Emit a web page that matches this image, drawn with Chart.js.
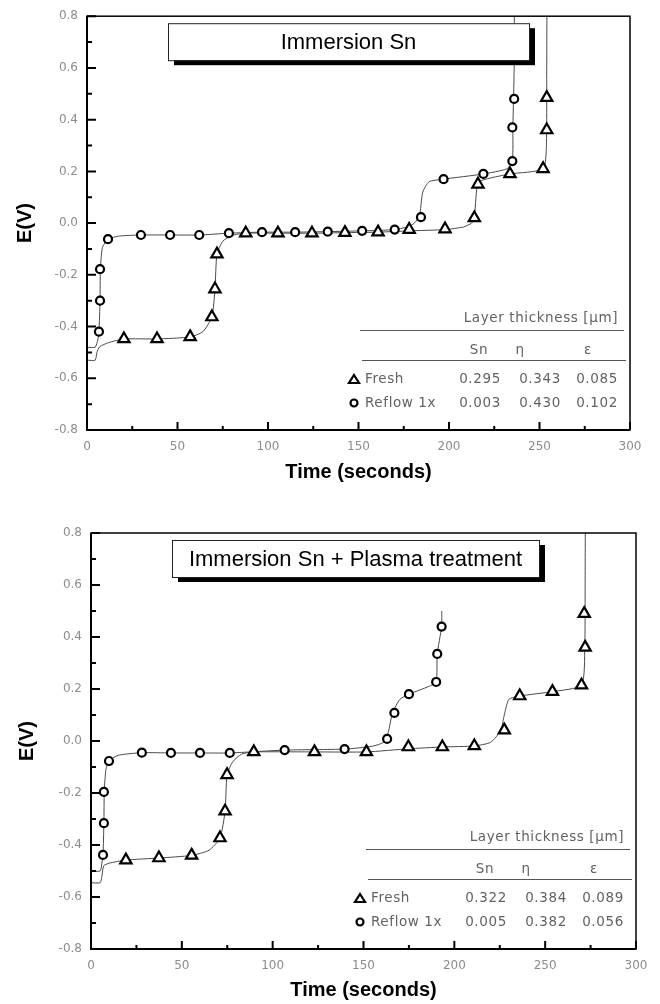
<!DOCTYPE html>
<html>
<head>
<meta charset="utf-8">
<script src="https://cdn.jsdelivr.net/npm/chart.js@4/dist/chart.umd.min.js"></script>
<style>
  body { margin: 0; background: #fff; }
  #wrap { position: relative; width: 660px; height: 1004px; }
  canvas { position: absolute; left: 0; }
</style>
</head>
<body>
<div id="wrap">
  <canvas id="grafica-sup" width="660" height="500" style="top:0"></canvas>
  <canvas id="grafica-inf" width="660" height="504" style="top:500px"></canvas>
</div>
<script>
// ticks
const timeTicks = [0, 50, 100, 150, 200, 250, 300];
const eTicks = [-0.8, -0.6, -0.4, -0.2, 0.0, 0.2, 0.4, 0.6, 0.8];

// tabla de espesores
const layerNames = ["Sn", "η", "ε"];
const sampleNames = ["Fresh", "Reflow 1x"];

// --- Immersion Sn ---
const supTitle = "Immersion Sn";
const supFreshThick = [0.295, 0.343, 0.085];
const supReflowThick = [0.003, 0.430, 0.102];

const supFreshCurveT = [0, 4.5, 5.5, 7, 12, 20.4, 38.7, 57, 64, 69, 70.7, 71.8, 75, 80, 87.7, 105.5, 124.3, 142.5, 160.8, 178, 197.8, 208, 212.5, 214, 215.5, 218, 233.7, 252, 253.8, 254, 254.1];
const supFreshCurveE = [-0.53, -0.53, -0.5, -0.478, -0.462, -0.448, -0.448, -0.44, -0.42, -0.363, -0.255, -0.12, -0.07, -0.048, -0.039, -0.039, -0.039, -0.037, -0.035, -0.03, -0.025, -0.015, 0.0, 0.02, 0.14, 0.165, 0.19, 0.21, 0.3, 0.6, 0.85];
const supFreshMarkT = [20.4, 38.7, 57, 69, 70.7, 71.8, 87.7, 105.5, 124.3, 142.5, 160.8, 178, 197.8, 214, 216, 233.7, 252, 254, 254];
const supFreshMarkE = [-0.448, -0.448, -0.44, -0.363, -0.255, -0.12, -0.039, -0.039, -0.039, -0.037, -0.035, -0.025, -0.023, 0.02, 0.15, 0.19, 0.21, 0.36, 0.485];

const supReflowCurveT = [0, 4.5, 6.0, 6.6, 7.2, 7.4, 8.5, 11.6, 18, 29.8, 45.9, 62, 78.4, 96.7, 115, 133, 152, 170, 179, 183.5, 185.5, 189, 197, 219, 232, 235, 235.3, 236, 236.1];
const supReflowCurveE = [-0.48, -0.48, -0.45, -0.42, -0.3, -0.18, -0.095, -0.062, -0.05, -0.046, -0.046, -0.046, -0.039, -0.035, -0.035, -0.033, -0.03, -0.025, -0.01, 0.023, 0.12, 0.16, 0.17, 0.19, 0.21, 0.24, 0.37, 0.6, 0.85];
const supReflowMarkT = [6.6, 7.2, 7.2, 11.6, 29.8, 45.9, 62, 78.4, 96.7, 115, 133, 152, 170, 184.5, 197, 219, 235, 235, 236];
const supReflowMarkE = [-0.42, -0.30, -0.178, -0.062, -0.046, -0.046, -0.046, -0.039, -0.035, -0.035, -0.033, -0.03, -0.025, 0.023, 0.17, 0.19, 0.24, 0.37, 0.48];

// --- Immersion Sn + Plasma treatment ---
const infTitle = "Immersion Sn + Plasma treatment";
const infFreshThick = [0.322, 0.384, 0.089];
const infReflowThick = [0.005, 0.382, 0.056];

const infFreshCurveT = [0, 5, 6, 7, 10, 19.2, 37.4, 55.4, 65, 71, 73.8, 74.9, 78, 83, 89.6, 123, 151.6, 174.7, 193.4, 211, 220, 225.5, 227.5, 230, 236, 254, 270, 271.8, 272, 272.1];
const infFreshCurveE = [-0.545, -0.545, -0.52, -0.48, -0.47, -0.458, -0.45, -0.44, -0.42, -0.373, -0.27, -0.13, -0.08, -0.05, -0.042, -0.042, -0.042, -0.03, -0.023, -0.019, -0.005, 0.04, 0.1, 0.16, 0.173, 0.19, 0.215, 0.36, 0.6, 0.85];
const infFreshMarkT = [19.2, 37.4, 55.4, 71, 73.8, 74.9, 89.6, 123, 151.6, 174.7, 193.4, 211, 227.5, 236, 254, 270, 272, 271.5];
const infFreshMarkE = [-0.458, -0.45, -0.44, -0.373, -0.27, -0.13, -0.042, -0.042, -0.042, -0.023, -0.023, -0.019, 0.042, 0.173, 0.19, 0.215, 0.36, 0.49];

const infReflowCurveT = [0, 5, 6.0, 6.6, 7.1, 7.3, 8.2, 9.9, 15, 28, 44, 60, 76.4, 106.6, 139.6, 155, 161, 163.5, 166, 170, 175, 186, 190, 190.6, 193, 193.1];
const infReflowCurveE = [-0.5, -0.5, -0.47, -0.438, -0.316, -0.196, -0.11, -0.077, -0.055, -0.045, -0.046, -0.046, -0.046, -0.035, -0.031, -0.02, -0.005, 0.03, 0.108, 0.16, 0.18, 0.21, 0.227, 0.335, 0.44, 0.5];
const infReflowMarkT = [6.6, 7.1, 7.1, 9.9, 28, 44, 60, 76.4, 106.6, 139.6, 163, 167, 175, 190, 190.6, 193];
const infReflowMarkE = [-0.438, -0.316, -0.196, -0.077, -0.045, -0.046, -0.046, -0.046, -0.035, -0.031, 0.008, 0.108, 0.18, 0.227, 0.335, 0.44];

function pares(t, e) {
  return t.map((x, i) => ({ x: x, y: e[i] }));
}

const fuenteTabla = '13.5px "DejaVu Sans"';

// marco, marcas hacia dentro, recuadro del titulo y tabla
const decoracion = {
  id: "decoracion",
  afterDatasetsDraw(chart, args, opts) {
    const { ctx, chartArea: a, scales } = chart;
    const sx = scales.x, sy = scales.y;
    ctx.save();

    // recuadro del titulo con sombra
    const bx = a.left + 81, by = a.top + 7, bw = opts.boxWidth, bh = 37;
    ctx.fillStyle = "#000";
    ctx.fillRect(bx + 6, by + 5, bw, bh);
    ctx.fillStyle = "#fff";
    ctx.fillRect(bx, by, bw, bh);
    ctx.strokeStyle = "#222";
    ctx.lineWidth = 1;
    ctx.strokeRect(bx + 0.5, by + 0.5, bw, bh);
    ctx.fillStyle = "#000";
    ctx.font = '22px "Liberation Sans", Arial, sans-serif';
    ctx.textAlign = "center";
    ctx.textBaseline = "middle";
    ctx.fillText(opts.title, bx + bw / 2, by + bh / 2 + 1);

    // tabla de espesores
    const R = a.right, B = a.bottom;
    ctx.fillStyle = "#626262";
    ctx.font = fuenteTabla;
    ctx.letterSpacing = "0.6px";
    ctx.textAlign = "right";
    ctx.fillText("Layer thickness [μm]", R - 12, B - 112);
    ctx.strokeStyle = "#555";
    ctx.lineWidth = 1;
    ctx.beginPath();
    ctx.moveTo(R - 270, B - 99.5); ctx.lineTo(R - 6, B - 99.5);
    ctx.moveTo(R - 268, B - 69.5); ctx.lineTo(R - 4, B - 69.5);
    ctx.stroke();
    ctx.textAlign = "center";
    const colHead = [R - 151, R - 110, R - 42];
    layerNames.forEach((n, i) => ctx.fillText(n, colHead[i], B - 80));
    const colVal = [R - 150, R - 90, R - 33];
    const filas = [opts.fresh, opts.reflow];
    filas.forEach((vals, j) => {
      const y = B - 51 + j * 24;
      ctx.textAlign = "left";
      ctx.fillStyle = "#626262";
      ctx.fillText(sampleNames[j], R - 265, y);
      ctx.textAlign = "center";
      vals.forEach((v, i) => ctx.fillText(v.toFixed(3), colVal[i], y));
      // simbolo
      ctx.strokeStyle = "#000";
      ctx.lineWidth = 2.2;
      ctx.beginPath();
      const mx = R - 276;
      if (j === 0) {
        ctx.moveTo(mx - 5, y + 4); ctx.lineTo(mx + 5, y + 4); ctx.lineTo(mx, y - 4); ctx.closePath();
      } else {
        ctx.arc(mx, y, 3.5, 0, Math.PI * 2);
      }
      ctx.stroke();
    });
    ctx.letterSpacing = "0px";

    // marco
    ctx.strokeStyle = "#000";
    ctx.lineWidth = 1.5;
    ctx.strokeRect(a.left, a.top, a.right - a.left, a.bottom - a.top);
    ctx.lineWidth = 2;
    ctx.beginPath();
    ctx.moveTo(a.left, a.top); ctx.lineTo(a.left, a.bottom); ctx.lineTo(a.right, a.bottom);
    ctx.stroke();

    // marcas
    ctx.beginPath();
    eTicks.forEach((v, i) => {
      const py = sy.getPixelForValue(v);
      ctx.moveTo(a.left, py); ctx.lineTo(a.left + 9, py);
      if (i < eTicks.length - 1) {
        const pm = sy.getPixelForValue((v + eTicks[i + 1]) / 2);
        ctx.moveTo(a.left, pm); ctx.lineTo(a.left + 5, pm);
      }
    });
    timeTicks.forEach((v, i) => {
      const px = sx.getPixelForValue(v);
      ctx.moveTo(px, a.bottom); ctx.lineTo(px, a.bottom - 8);
      if (i < timeTicks.length - 1) {
        const pm = sx.getPixelForValue((v + timeTicks[i + 1]) / 2);
        ctx.moveTo(pm, a.bottom); ctx.lineTo(pm, a.bottom - 4);
      }
    });
    ctx.stroke();
    ctx.restore();
  }
};

function dibujar(id, cfg) {
  const ctx = document.getElementById(id);
  const marca = (t, e, estilo, r) => ({
    data: pares(t, e),
    showLine: false,
    pointStyle: estilo,
    pointRadius: r,
    pointBorderWidth: 2.2,
    pointBorderColor: "#000",
    pointBackgroundColor: "#fff",
    order: 0
  });
  const curva = (t, e) => ({
    data: pares(t, e),
    showLine: true,
    pointRadius: 0,
    borderColor: "#4a4a4a",
    borderWidth: 1,
    tension: 0.2,
    order: 1
  });
  const fuenteTicks = { family: "DejaVu Sans", size: 12 };

  new Chart(ctx, {
    type: "scatter",
    data: {
      datasets: [
        marca(cfg.freshMarkT, cfg.freshMarkE, "triangle", 6.5),
        marca(cfg.reflowMarkT, cfg.reflowMarkE, "circle", 4),
        curva(cfg.freshCurveT, cfg.freshCurveE),
        curva(cfg.reflowCurveT, cfg.reflowCurveE)
      ]
    },
    options: {
      responsive: false,
      animation: false,
      events: [],
      layout: { padding: { top: cfg.top, right: cfg.right, left: 0, bottom: 0 } },
      plugins: {
        legend: { display: false },
        tooltip: { enabled: false },
        decoracion: {
          title: cfg.title,
          boxWidth: cfg.boxWidth,
          fresh: cfg.freshThick,
          reflow: cfg.reflowThick
        }
      },
      scales: {
        x: {
          type: "linear",
          min: 0,
          max: 300,
          afterBuildTicks: (s) => { s.ticks = timeTicks.map((v) => ({ value: v })); },
          afterFit: (s) => { s.height = cfg.xHeight; },
          grid: { display: false, drawTicks: false },
          border: { display: false },
          ticks: { font: fuenteTicks, color: "#8c8c8c", padding: 10, maxRotation: 0 },
          title: {
            display: true,
            text: "Time (seconds)",
            color: "#000",
            font: { family: "Liberation Sans", size: 20, weight: "bold" },
            padding: { top: 0, bottom: cfg.xTitlePad }
          }
        },
        y: {
          type: "linear",
          min: -0.8,
          max: 0.8,
          afterBuildTicks: (s) => { s.ticks = eTicks.map((v) => ({ value: v })); },
          afterFit: (s) => { s.width = cfg.left; },
          grid: { display: false, drawTicks: false },
          border: { display: false },
          ticks: {
            font: fuenteTicks,
            color: "#8c8c8c",
            padding: 9,
            callback: (v) => Number(v).toFixed(1)
          },
          title: {
            display: true,
            text: "E(V)",
            color: "#000",
            font: { family: "Liberation Sans", size: 20, weight: "bold" },
            padding: { top: cfg.yTitlePad, bottom: 0 }
          }
        }
      }
    },
    plugins: [decoracion]
  });
}

dibujar("grafica-sup", {
  title: supTitle, boxWidth: 361,
  freshThick: supFreshThick, reflowThick: supReflowThick,
  freshCurveT: supFreshCurveT, freshCurveE: supFreshCurveE,
  freshMarkT: supFreshMarkT, freshMarkE: supFreshMarkE,
  reflowCurveT: supReflowCurveT, reflowCurveE: supReflowCurveE,
  reflowMarkT: supReflowMarkT, reflowMarkE: supReflowMarkE,
  top: 16, right: 30, left: 87, xHeight: 70, xTitlePad: 16, yTitlePad: 13
});

dibujar("grafica-inf", {
  title: infTitle, boxWidth: 367,
  freshThick: infFreshThick, reflowThick: infReflowThick,
  freshCurveT: infFreshCurveT, freshCurveE: infFreshCurveE,
  freshMarkT: infFreshMarkT, freshMarkE: infFreshMarkE,
  reflowCurveT: infReflowCurveT, reflowCurveE: infReflowCurveE,
  reflowMarkT: infReflowMarkT, reflowMarkE: infReflowMarkE,
  top: 33, right: 24, left: 91, xHeight: 55, xTitlePad: 2, yTitlePad: 15
});
</script>
</body>
</html>
